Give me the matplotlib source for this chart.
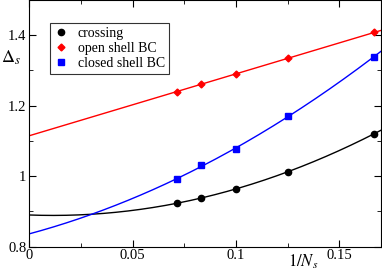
import numpy as np
import matplotlib
matplotlib.use("Agg")
import matplotlib.pyplot as plt
from matplotlib.ticker import MultipleLocator

plt.rcParams["font.family"] = "Liberation Serif"
plt.rcParams["mathtext.fontset"] = "stix"

# 1/N_s for N_s = 14, 12, 10, 8, 6
inv_ns = [1/14, 1/12, 1/10, 1/8, 1/6]
crossing = [0.924, 0.937, 0.964, 1.013, 1.120]
open_bc = [1.240, 1.262, 1.290, 1.334, 1.408]
closed_bc = [0.991, 1.033, 1.076, 1.170, 1.339]

xs = np.linspace(0, 0.17, 200)
fit_cross = np.polyfit(inv_ns, crossing, 2)
fit_open = np.polyfit(inv_ns, open_bc, 1)
fit_closed = np.polyfit(inv_ns, closed_bc, 2)

fig = plt.figure(figsize=(3.82, 2.75), dpi=100)
ax = fig.add_axes([0.076, 0.103, 0.921, 0.897])

ax.plot(xs, np.polyval(fit_cross, xs), color="black", lw=1)
ax.plot(xs, np.polyval(fit_open, xs), color="red", lw=1)
ax.plot(xs, np.polyval(fit_closed, xs), color="blue", lw=1)

ax.plot(inv_ns, crossing, "o", color="black", ms=4.5, label="crossing")
ax.plot(inv_ns, open_bc, "D", color="red", ms=3.5, label="open shell BC")
ax.plot(inv_ns, closed_bc, "s", color="blue", ms=4, label="closed shell BC")

ax.set_xlim(0, 0.17)
ax.set_ylim(0.8, 1.5)
ax.xaxis.set_minor_locator(MultipleLocator(0.025))
ax.yaxis.set_minor_locator(MultipleLocator(0.1))
ax.set_xticks([0, 0.05, 0.1, 0.15])
ax.set_xticklabels(["0", "0.05", "0.1", "0.15"])
ax.set_yticks([0.8, 1.0, 1.2, 1.4])
ax.set_yticklabels(["0.8", "1", "1.2", "1.4"])
ax.tick_params(which="both", direction="in", top=True, right=True, labelsize=10.5, pad=2)
ax.tick_params(which="major", length=5)
ax.tick_params(which="minor", length=3)

ax.text(0.125, 0.783, r"$1/N_s$", fontsize=12, ha="left", va="top",
        transform=ax.transData, clip_on=False)
fig.text(0.003, 0.79, r"$\Delta_s$", fontsize=13, ha="left", va="center")

leg = ax.legend(loc="upper left", bbox_to_anchor=(0.04, 0.935), fontsize=10,
                frameon=True, fancybox=False, edgecolor="black",
                handlelength=1, handletextpad=0.7, borderpad=0.3,
                labelspacing=0.15, numpoints=1)
leg.get_frame().set_linewidth(0.8)

fig.savefig("out.png", dpi=100)
